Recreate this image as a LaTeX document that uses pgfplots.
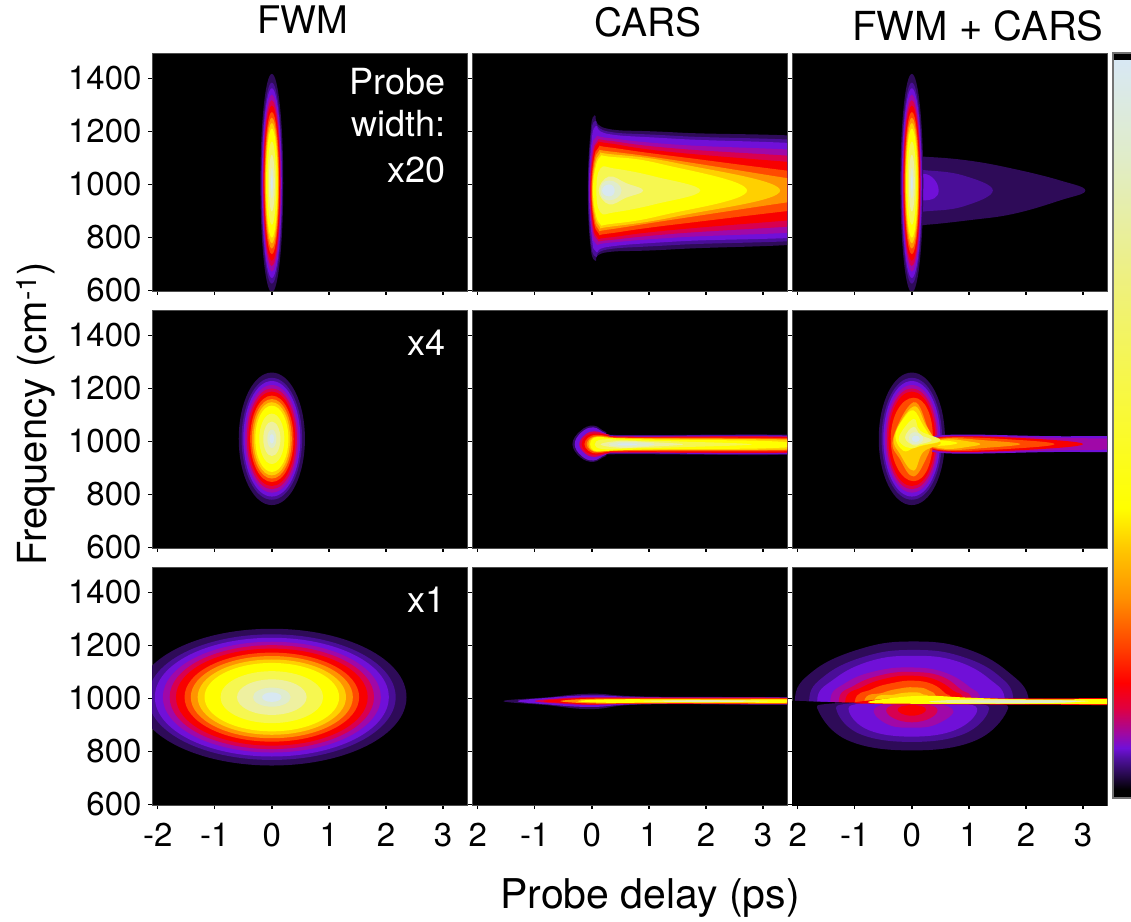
\documentclass[border=0pt]{standalone}
\usepackage{fontspec}
\setmainfont{TeX Gyre Heros}
\usepackage{pgfplots}
\pgfplotsset{compat=1.18}
\definecolor{c1}{HTML}{2E0B58}\definecolor{c2}{HTML}{4A0E98}\definecolor{c3}{HTML}{7010D8}
\definecolor{c4}{HTML}{A008A8}\definecolor{c5}{HTML}{D80050}\definecolor{c6}{HTML}{F80000}
\definecolor{c7}{HTML}{FF4A00}\definecolor{c8}{HTML}{FF9400}\definecolor{c9}{HTML}{FFD000}
\definecolor{c10}{HTML}{FFFF00}\definecolor{c11}{HTML}{F6F750}\definecolor{c12}{HTML}{EEF0A0}
\definecolor{c13}{HTML}{E0ECCC}\definecolor{c14}{HTML}{D8E8F2}
\newcommand{\lev}[2]{\addplot[forget plot,draw=none,fill=c#1,smooth cycle,tension=.7] coordinates {#2};}
\newcommand{\levE}[2]{\addplot[forget plot,draw=none,fill=c#1,smooth cycle,tension=1] coordinates {#2};}
\newcommand{\FWMa}{%
\levE{1}{(.2,1005)(0,1417)(-.2,1005)(0,593)}
\levE{2}{(.184,1005)(0,1384)(-.184,1005)(0,626)}
\levE{3}{(.174,1005)(0,1363)(-.174,1005)(0,647)}
\levE{4}{(.162,1005)(0,1339)(-.162,1005)(0,671)}
\levE{5}{(.152,1005)(0,1318)(-.152,1005)(0,692)}
\levE{6}{(.142,1005)(0,1298)(-.142,1005)(0,712)}
\levE{7}{(.13,1005)(0,1273)(-.13,1005)(0,737)}
\levE{8}{(.12,1005)(0,1252)(-.12,1005)(0,758)}
\levE{9}{(.11,1005)(0,1232)(-.11,1005)(0,778)}
\levE{10}{(.1,1005)(0,1211)(-.1,1005)(0,799)}
\levE{11}{(.076,1005)(0,1162)(-.076,1005)(0,848)}
\levE{12}{(.052,1005)(0,1112)(-.052,1005)(0,898)}
\levE{13}{(.028,1005)(0,1063)(-.028,1005)(0,947)}
\levE{14}{(.014,1005)(0,1034)(-.014,1005)(0,976)}}
\newcommand{\FWMbOuter}{%
\levE{1}{(.58,1010)(0,1260)(-.58,1010)(0,760)}
\levE{2}{(.53,1010)(0,1240)(-.53,1010)(0,780)}
\levE{3}{(.5,1010)(0,1228)(-.5,1010)(0,792)}
\levE{4}{(.47,1010)(0,1213)(-.47,1010)(0,807)}
\levE{5}{(.44,1010)(0,1200)(-.44,1010)(0,820)}
\levE{6}{(.41,1010)(0,1188)(-.41,1010)(0,832)}}
\newcommand{\FWMb}{%
\FWMbOuter
\levE{7}{(.38,1010)(0,1173)(-.38,1010)(0,847)}
\levE{8}{(.35,1010)(0,1160)(-.35,1010)(0,860)}
\levE{9}{(.32,1010)(0,1148)(-.32,1010)(0,872)}
\levE{10}{(.29,1010)(0,1135)(-.29,1010)(0,885)}
\levE{11}{(.22,1010)(0,1105)(-.22,1010)(0,915)}
\levE{12}{(.15,1010)(0,1075)(-.15,1010)(0,945)}
\levE{13}{(.08,1010)(0,1045)(-.08,1010)(0,975)}
\levE{14}{(.04,1010)(0,1028)(-.04,1010)(0,992)}}
\pgfplotsset{panel/.style={
  scale only axis,width=315pt,height=238pt,anchor=south west,
  xmin=-2.1,xmax=3.42,ymin=598,ymax=1496,
  xtick={-2,-1,0,1,2,3},ytick={600,800,1000,1200,1400},
  tick align=outside,tick pos=left,
  major tick length=4pt,
  every tick/.style={black,line width=1.4pt},
  axis line style={draw=black!70,line width=.8pt},
  axis background/.style={fill=black},
  xticklabels={},yticklabels={},
  xticklabel style={yshift=-11pt},
  yticklabel style={xshift=-3pt},
  tick label style={font=\fontsize{33}{36}\selectfont},
}}
\begin{document}
\begin{tikzpicture}[x=1pt,y=1pt]
\useasboundingbox (0,0) rectangle (1131,921);
% row 1
\begin{axis}[panel,at={(152pt,630pt)},yticklabels={600,800,1000,1200,1400}]
\FWMa
\end{axis}
\begin{axis}[panel,at={(472pt,630pt)}]
\lev{1}{(-.07,977)(-.03,1180)(.05,1261)(.26,1211)(1.5,1196)(5,1155)(8,977)(5,804)(1.5,756)(.26,744)(.06,712)(-.03,780)}
\lev{2}{(-.06,977)(-.02,1170)(.06,1240)(.28,1200)(1.5,1183)(5,1140)(8,977)(5,815)(1.5,772)(.28,755)(.07,727)(-.02,790)}
\lev{3}{(-.05,977)(-.01,1150)(.07,1220)(.3,1190)(1.5,1172)(5,1128)(8,977)(5,825)(1.5,785)(.3,765)(.08,745)(0,800)}
\lev{4}{(-.04,977)(0,1130)(.08,1180)(.3,1175)(1.5,1150)(5,1105)(8,977)(5,845)(1.5,800)(.3,780)(.08,775)(0,825)}
\lev{5}{(-.03,977)(.01,1110)(.1,1165)(.3,1165)(1.5,1135)(5,1080)(8,977)(5,870)(1.5,815)(.3,790)(.1,790)(.01,840)}
\lev{6}{(-.02,977)(.02,1100)(.1,1155)(.3,1155)(1.5,1120)(5,1055)(8,977)(5,895)(1.5,830)(.3,800)(.1,800)(.02,850)}
\lev{7}{(-.01,977)(.03,1090)(.12,1140)(.3,1140)(1.5,1105)(5,1015)(8,977)(5,935)(1.5,850)(.3,815)(.12,815)(.03,865)}
\lev{8}{(0,977)(.04,1080)(.12,1125)(.3,1125)(1.5,1090)(4,1005)(5.2,977)(4,950)(1.5,870)(.3,830)(.12,830)(.04,875)}
\lev{9}{(.01,977)(.05,1070)(.14,1115)(.3,1115)(1.5,1080)(3.3,977)(1.5,880)(.3,840)(.14,840)(.05,885)}
\lev{10}{(.02,977)(.06,1060)(.15,1105)(.3,1105)(1.2,1078)(2.72,977)(1.2,882)(.3,850)(.15,850)(.06,895)}
\lev{11}{(.08,977)(.15,1060)(.4,1060)(1.1,1030)(1.9,977)(1.1,925)(.4,895)(.15,895)}
\lev{12}{(.12,977)(.3,1030)(.6,1005)(.9,977)(.6,950)(.3,925)}
\levE{13}{(.15,977)(.3,1015)(.52,977)(.3,940)}
\levE{14}{(.18,977)(.3,1000)(.4,977)(.3,955)}
\end{axis}
\begin{axis}[panel,at={(792pt,630pt)}]
\lev{1}{(-.1,977)(0,1100)(.26,1104)(1,1090)(1.78,1059)(2.6,1015)(3.04,977)(2.6,940)(1.78,889)(1,865)(.26,848)(0,850)}
\lev{2}{(-.1,977)(0,1050)(.26,1053)(.9,1034)(1.42,977)(.9,917)(.26,899)(0,900)}
\levE{3}{(-.1,977)(.2,1040)(.47,977)(.2,940)}
\FWMa
\end{axis}
% row 2
\begin{axis}[panel,at={(152pt,373pt)},yticklabels={600,800,1000,1200,1400}]
\FWMb
\end{axis}
\begin{axis}[panel,at={(472pt,373pt)}]
\lev{1}{(-.34,990)(-.2,1040)(.03,1060)(.25,1035)(.5,1024)(4,1020)(4,955)(.5,952)(.25,945)(.03,923)(-.2,940)}
\lev{3}{(-.3,990)(-.18,1035)(.03,1053)(.25,1030)(.5,1022)(4,1017)(4,958)(.5,955)(.25,950)(.03,928)(-.18,945)}
\lev{5}{(-.22,990)(-.12,1025)(.05,1038)(.3,1026)(.6,1019)(4,1014)(4,961)(.6,958)(.3,955)(.05,942)(-.12,955)}
\lev{6}{(-.18,990)(-.1,1020)(.06,1030)(.3,1024)(.6,1017)(4,1012)(4,963)(.6,960)(.3,958)(.06,950)(-.1,960)}
\lev{7}{(-.13,990)(-.06,1015)(.08,1025)(.3,1020)(.6,1015)(4,1008)(4,967)(.6,963)(.3,961)(.08,955)(-.06,965)}
\lev{8}{(-.09,990)(-.03,1012)(.1,1020)(.3,1018)(.6,1013)(4,1005)(4,971)(.6,966)(.3,963)(.1,960)(-.03,968)}
\lev{9}{(-.06,990)(0,1012)(.15,1018)(.6,1012)(4,1003)(4,973)(.6,967)(.15,962)(0,967)}
\lev{10}{(-.03,990)(.03,1013)(.2,1016)(.6,1010)(1.5,1006)(3,1002)(3.9,988)(3,974)(1.5,972)(.6,968)(.2,964)(.03,966)}
\lev{11}{(.05,989)(.2,1008)(.7,1004)(1.5,1000)(2.8,989)(1.5,978)(.7,974)(.2,971)}
\lev{12}{(.15,989)(.5,1002)(1,998)(1.6,989)(1,980)(.5,976)}
\levE{13}{(.3,989)(.6,998)(1.1,989)(.6,980)}
\levE{14}{(.45,989)(.6,993)(.8,989)(.6,985)}
\end{axis}
\begin{axis}[panel,at={(792pt,373pt)}]
\FWMbOuter
\lev{3}{(.3,990)(.55,1024)(2.4,1020)(4,1014)(4,966)(2.4,960)(.55,956)}
\lev{4}{(.3,990)(.6,1021)(2.5,1014)(4,1005)(4,975)(2.5,966)(.6,958)}
\lev{6}{(.3,990)(.6,1018)(2,1012)(3,990)(2,968)(.6,962)}
\lev{7}{(.3,990)(.6,1015)(1.7,1008)(2.5,990)(1.7,972)(.6,965)}
\lev{8}{(.3,990)(.6,1012)(1.3,1004)(1.9,990)(1.3,976)(.6,968)}
\lev{9}{(.3,990)(.6,1008)(1,1000)(1.2,990)(1,980)(.6,972)}
\lev{10}{(.3,995)(.5,1004)(.8,995)(.6,985)(.3,985)}
\levE{7}{(-.37,1010)(.03,1165)(.37,1010)(.03,850)}
\lev{8}{(-.33,1010)(.03,1148)(.28,1050)(.34,1000)(.26,940)(.03,868)(-.2,930)}
\lev{9}{(-.31,1020)(.03,1132)(.25,1060)(.4,1010)(.5,990)(.2,960)(.03,890)(-.2,950)}
\lev{10}{(-.29,1020)(-.15,1085)(.03,1117)(.2,1060)(.35,1015)(.5,1000)(.2,985)(.03,975)(-.15,965)}
\lev{11}{(-.22,1020)(.03,1085)(.15,1040)(.5,1005)(.15,985)(.03,975)(-.15,985)}
\lev{12}{(-.12,1015)(.03,1055)(.15,1025)(.35,1005)(.15,990)(.03,985)}
\levE{13}{(-.05,1010)(.05,1035)(.2,1010)(.05,990)}
\levE{14}{(0,1010)(.07,1022)(.14,1010)(.07,998)}
\end{axis}
% row 3
\begin{axis}[panel,at={(152pt,116pt)},yticklabels={600,800,1000,1200,1400},xticklabels={-2,-1,0,1,2,3}]
\levE{1}{(2.36,1005)(0,1263)(-2.36,1005)(0,747)}
\levE{2}{(2.17,1005)(0,1242)(-2.17,1005)(0,768)}
\levE{3}{(2.05,1005)(0,1229)(-2.05,1005)(0,781)}
\levE{4}{(1.91,1005)(0,1214)(-1.91,1005)(0,796)}
\levE{5}{(1.79,1005)(0,1201)(-1.79,1005)(0,809)}
\levE{6}{(1.68,1005)(0,1188)(-1.68,1005)(0,822)}
\levE{7}{(1.53,1005)(0,1173)(-1.53,1005)(0,837)}
\levE{8}{(1.42,1005)(0,1160)(-1.42,1005)(0,850)}
\levE{9}{(1.3,1005)(0,1147)(-1.3,1005)(0,863)}
\levE{10}{(1.18,1005)(0,1134)(-1.18,1005)(0,876)}
\levE{11}{(.9,1005)(0,1103)(-.9,1005)(0,907)}
\levE{12}{(.61,1005)(0,1072)(-.61,1005)(0,938)}
\levE{13}{(.33,1005)(0,1041)(-.33,1005)(0,969)}
\levE{14}{(.17,1005)(0,1023)(-.17,1005)(0,987)}
\end{axis}
\begin{axis}[panel,at={(472pt,116pt)},xticklabels={2,-1,0,1,2,3}]
\lev{1}{(-1.55,990)(-.8,1004)(0,1018)(1,1007)(4,1002)(4,978)(1,978)(0,960)(-.8,975)}
\lev{3}{(-1.3,990)(-.8,1002)(0,1012)(1,1005)(4,1001)(4,979)(1,979)(0,968)(-.8,978)}
\lev{5}{(-1,990)(-.5,1001)(0,1004)(1,1003)(4,1000)(4,980)(1,980)(0,976)(-.5,980)}
\lev{6}{(-.85,990)(-.4,999)(0,1002)(1,1002)(4,999.5)(4,980.5)(1,981)(0,978)(-.4,982)}
\lev{8}{(-.55,990)(-.1,998)(.5,999)(1.5,999)(4,998)(4,982)(1.5,982)(.5,981)(-.1,982)}
\lev{10}{(-.25,990)(.2,996)(1,997)(2,996)(4,995)(4,985)(2,984)(1,984)(.2,984)}
\lev{12}{(.9,990)(1.5,993)(2.4,993)(3.1,990)(2.4,987)(1.5,987)}
\levE{13}{(1.3,990)(1.8,992)(2.7,990)(1.8,988)}
\end{axis}
\begin{axis}[panel,at={(792pt,116pt)},xticklabels={2,-1,0,1,2,3}]
\lev{1}{(-2.05,985)(-1.72,1105)(-.84,1191)(.03,1215)(.9,1191)(1.66,1105)(2.05,985)(1.7,800)(-1.7,800)}
\lev{2}{(-1.8,985)(-1.5,1090)(-.75,1163)(.03,1183)(.8,1163)(1.5,1090)(1.78,985)(1.5,800)(-1.5,800)}
\lev{3}{(-1.66,985)(-1.35,1075)(-.7,1143)(.03,1161)(.75,1143)(1.35,1075)(1.63,985)(1.35,800)(-1.35,800)}
\lev{4}{(-1.43,985)(-1.15,1060)(-.6,1105)(0,1117)(.55,1100)(1,1045)(1.2,985)(1,800)(-1.15,800)}
\lev{5}{(-1.28,985)(-1,1050)(-.5,1090)(0,1100)(.5,1085)(.85,1035)(1.05,985)(.85,800)(-1,800)}
\lev{6}{(-1.17,985)(-.85,1045)(-.4,1078)(0,1086)(.4,1072)(.72,1030)(.9,985)(.7,800)(-.9,800)}
\lev{7}{(-1,985)(-.7,1035)(-.3,1060)(.03,1067)(.35,1055)(.58,1020)(.67,985)(.5,800)(-.8,800)}
\lev{8}{(-.84,985)(-.5,1022)(-.2,1038)(.03,1042)(.28,1032)(.44,985)(.35,800)(-.65,800)}
\lev{9}{(-.67,985)(-.3,1015)(.03,1023)(.2,1015)(.3,985)(.2,800)(-.5,800)}
\addplot[forget plot,draw=none,fill=black] coordinates {(-3,995)(-2.05,991)(-1,983)(0,979)(4,977)(4,500)(-3,500)} --cycle;
\lev{1}{(-1.63,950)(-1.4,981)(0,982)(1.4,981)(1.66,950)(1.1,840)(0,804)(-1.1,840)}
\lev{2}{(-1.31,950)(-1.1,981)(0,982)(1.1,981)(1.34,950)(.9,865)(0,836)(-.9,865)}
\lev{3}{(-1.1,950)(-.9,981)(0,982)(.9,981)(1.14,950)(.75,880)(0,856)(-.75,880)}
\lev{4}{(-.67,950)(-.45,980)(0,982)(.45,980)(.73,950)(.4,900)(0,890)(-.4,900)}
\levE{5}{(-.45,955)(0,980)(.45,955)(0,910)}
\levE{6}{(-.25,958)(0,975)(.25,958)(0,935)}
\lev{6}{(-1,985)(0,1005)(1,1002)(2,1000)(4,999)(4,977)(2,977)(0,978)(-.5,979)}
\lev{10}{(-.76,985)(-.3,1003)(.3,1010)(1,1003)(2,997)(4,996)(4,980)(2,980)(0,980)}
\lev{12}{(.3,988)(1,996)(2,995)(3.1,990)(2,982)(1,982)}
\levE{13}{(1.1,988)(2,993)(2.9,988)(2,983)}
\end{axis}
% colour bar
\begin{axis}[scale only axis,width=19pt,height=738pt,anchor=south west,at={(1112pt,123pt)},
  hide axis,xmin=0,xmax=1,ymin=0,ymax=738,
  colormap={fire}{rgb255(0pt)=(0,0,0);rgb255(8pt)=(0,0,0);rgb255(25pt)=(43,10,85);rgb255(40pt)=(80,16,160);
  rgb255(50pt)=(112,16,216);rgb255(65pt)=(160,8,160);rgb255(90pt)=(224,0,64);rgb255(115pt)=(255,0,0);
  rgb255(150pt)=(255,64,0);rgb255(200pt)=(255,144,0);rgb255(250pt)=(255,200,0);rgb255(290pt)=(255,255,0);
  rgb255(400pt)=(248,248,64);rgb255(520pt)=(238,240,128);rgb255(640pt)=(224,236,200);rgb255(738pt)=(216,232,244)}]
\addplot[surf,shader=interp,point meta=y,mesh/rows=2,forget plot] coordinates {(0,0)(1,0)(0,738)(1,738)};
\end{axis}
\fill[black] (1113,861) rectangle (1131,868);
\draw[black!55,line width=1.6pt] (1131,868) -- (1113,868) -- (1113,123) -- (1131,123);
% text
\node[anchor=base,font=\fontsize{38}{40}\selectfont] at (303,887) {FWM};
\node[anchor=base,font=\fontsize{39}{40}\selectfont] at (648,884) {CARS};
\node[anchor=base,font=\fontsize{40}{40}\selectfont] at (978,880) {FWM + CARS};
\foreach \t/\y in {Probe/826,width:/784,x20/738,x4/565,x1/308}
  \node[anchor=base east,white,inner sep=0,font=\fontsize{36}{38}\selectfont] at (446,\y) {\t};
\node[anchor=base,font=\fontsize{41}{42}\selectfont] at (650,13) {Probe delay (ps)};
\node[anchor=base,rotate=90,font=\fontsize{40}{42}\selectfont] at (46,507) {Frequency (cm\textsuperscript{-1})};
\end{tikzpicture}
\end{document}
